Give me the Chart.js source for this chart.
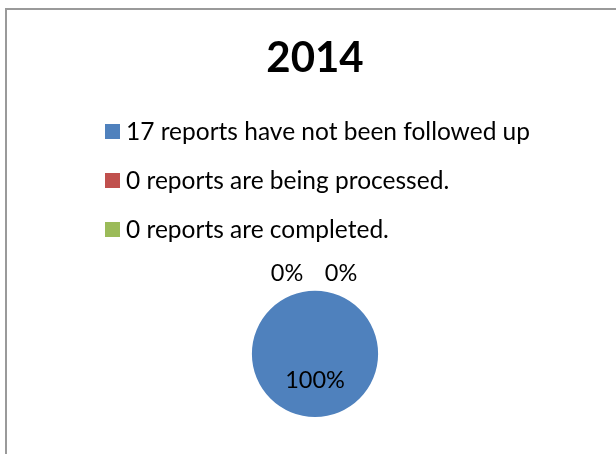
<!DOCTYPE html>
<html>
<head>
<meta charset="utf-8">
<script src="https://cdn.jsdelivr.net/npm/chart.js@4/dist/chart.umd.min.js"></script>
<style>
  html, body { margin: 0; padding: 0; background: #fff; overflow: hidden; width: 616px; height: 454px; }
  #frame { position: absolute; left: 5px; top: 8px; width: 640px; height: 480px;
           border-left: 2px solid #9a9a9a; border-top: 2px solid #9a9a9a; box-sizing: border-box; }
  #wrap { position: absolute; left: 6px; top: 9px; width: 618px; height: 445px; }
</style>
</head>
<body>
<div id="frame"></div>
<div id="wrap"><canvas id="c"></canvas></div>
<script>
const chartTitle = '2014';
const categories = [
  '17 reports have not been followed up',
  '0 reports are being processed.',
  '0 reports are completed.'
];
const reportCounts = [17, 0, 0];
const sliceColors = ['#4F81BD', '#C0504D', '#9BBB59'];

const FONT = 'Lato, "Open Sans", sans-serif';

// Custom stacked, left-aligned legend (like the original)
const stackedLegend = {
  id: 'stackedLegend',
  afterDraw(chart) {
    const ctx = chart.ctx;
    const items = chart.options.plugins.legend.labels.generateLabels(chart);
    const x0 = 99, y0 = 122.5, step = 49, box = 15;
    ctx.save();
    ctx.font = '24.5px ' + FONT;
    ctx.textBaseline = 'middle';
    ctx.textAlign = 'left';
    items.forEach((it, i) => {
      const y = y0 + i * step;
      ctx.fillStyle = it.fillStyle;
      ctx.fillRect(x0, y - box / 2, box, box);
      ctx.fillStyle = '#000';
      ctx.fillText(it.text, x0 + box + 6, y + 0.5);
    });
    ctx.restore();
  }
};

// Percentage data labels
const pctLabels = {
  id: 'pctLabels',
  afterDatasetsDraw(chart) {
    const ctx = chart.ctx;
    const meta = chart.getDatasetMeta(0);
    const data = chart.data.datasets[0].data;
    const total = data.reduce((a, b) => a + b, 0);
    ctx.save();
    ctx.font = '23.5px ' + FONT;
    ctx.fillStyle = '#000';
    ctx.textAlign = 'center';
    ctx.textBaseline = 'middle';
    const zeros = [];
    meta.data.forEach((arc, i) => {
      const p = arc.getProps(['x', 'y', 'startAngle', 'endAngle', 'outerRadius'], true);
      const pct = Math.round(data[i] / total * 100) + '%';
      const mid = (p.startAngle + p.endAngle) / 2;
      if (data[i] > 0) {
        const r = p.outerRadius * 0.42;
        ctx.fillText(pct, p.x + Math.cos(mid) * r, p.y + Math.sin(mid) * r);
      } else {
        zeros.push({ pct, p, mid });
      }
    });
    zeros.forEach((z, k) => {
      const r = z.p.outerRadius + 17;
      const spread = (k - (zeros.length - 1) / 2) * 54;
      ctx.fillText(z.pct, z.p.x + Math.cos(z.mid) * r + spread - 1, z.p.y + Math.sin(z.mid) * r);
    });
    ctx.restore();
  }
};

new Chart(document.getElementById('c'), {
  type: 'pie',
  data: {
    labels: categories,
    datasets: [{
      data: reportCounts,
      backgroundColor: sliceColors,
      borderWidth: 0
    }]
  },
  options: {
    responsive: true,
    maintainAspectRatio: false,
    animation: false,
    layout: { padding: { top: 0, bottom: 37, left: 0, right: 0 } },
    plugins: {
      legend: { display: false },
      tooltip: { enabled: false },
      title: {
        display: true,
        text: chartTitle,
        color: '#000',
        font: { family: FONT, size: 42, weight: 'bold', lineHeight: 1.2 },
        padding: { top: 24, bottom: 207.4 }
      }
    }
  },
  plugins: [stackedLegend, pctLabels]
});
</script>
</body>
</html>
